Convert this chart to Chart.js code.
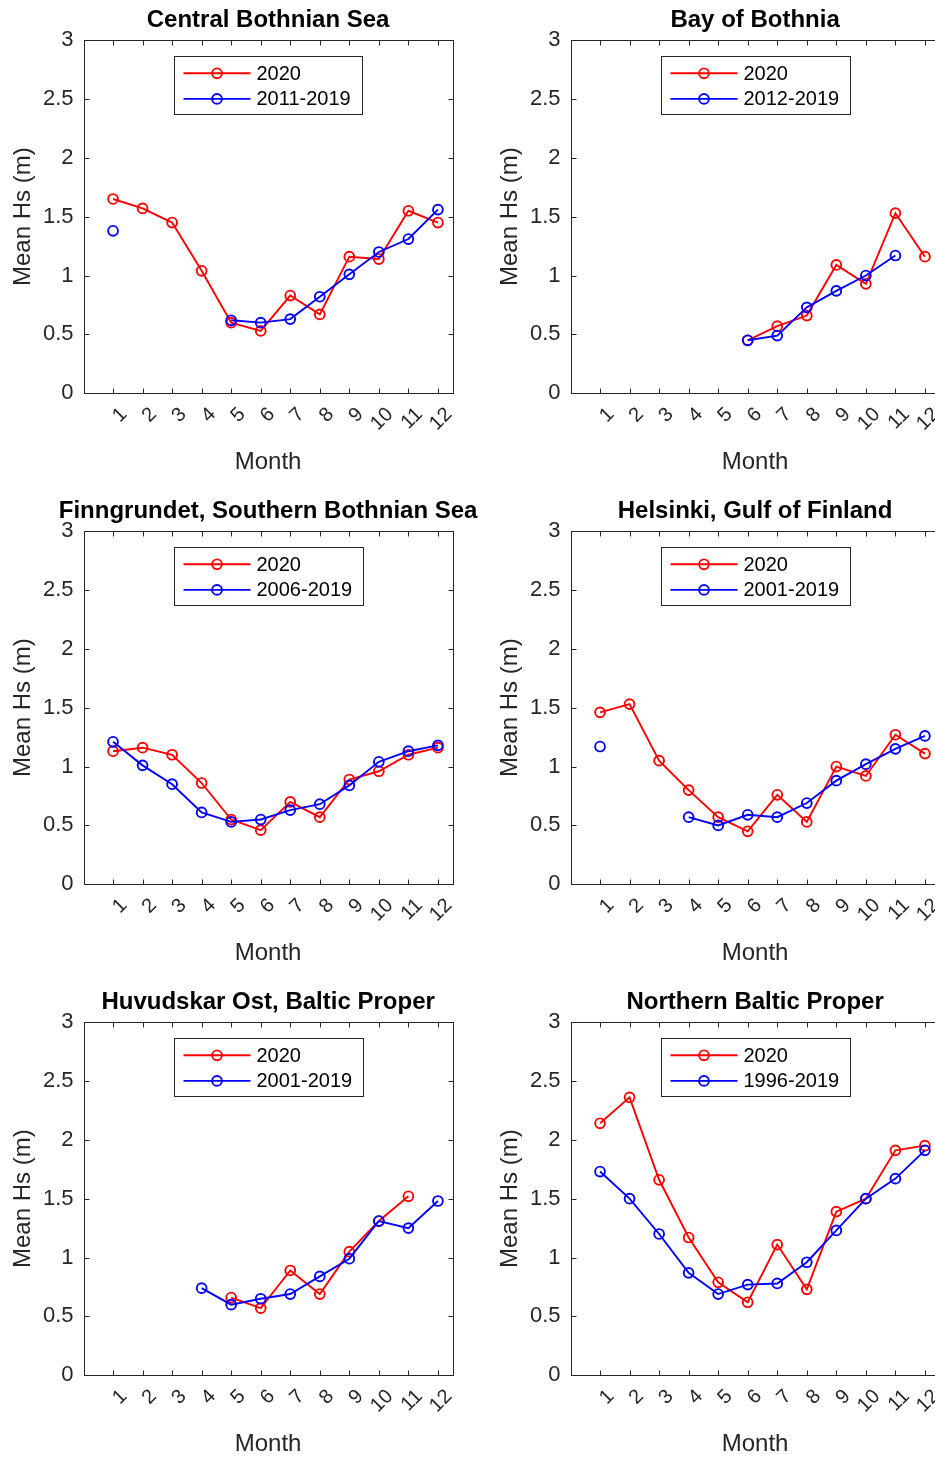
<!DOCTYPE html>
<html><head><meta charset="utf-8">
<script src="https://cdn.jsdelivr.net/npm/chart.js@4.4.0/dist/chart.umd.min.js"></script>
<style>
html,body{margin:0;padding:0;background:#fff;overflow:hidden;width:935px;height:1457px;position:relative;}
canvas{position:absolute;}
</style></head><body>
<canvas id="c0" width="500" height="491" style="left:0px;top:0px"></canvas>
<canvas id="c1" width="470" height="491" style="left:487px;top:0px"></canvas>
<canvas id="c2" width="500" height="491" style="left:0px;top:491px"></canvas>
<canvas id="c3" width="470" height="491" style="left:487px;top:491px"></canvas>
<canvas id="c4" width="500" height="491" style="left:0px;top:982px"></canvas>
<canvas id="c5" width="470" height="491" style="left:487px;top:982px"></canvas>
<script>
// ---- data ----
const months = [1,2,3,4,5,6,7,8,9,10,11,12];
const monthLabels = ['1','2','3','4','5','6','7','8','9','10','11','12'];
const yTickValues = [0,0.5,1,1.5,2,2.5,3];
const yTickLabels = ['0','0.5','1','1.5','2','2.5','3'];

const panelTitles = ['Central Bothnian Sea','Bay of Bothnia','Finngrundet, Southern Bothnian Sea',
  'Helsinki, Gulf of Finland','Huvudskar Ost, Baltic Proper','Northern Baltic Proper'];
const currentLabel = '2020';
const climLabels = ['2011-2019','2012-2019','2006-2019','2001-2019','2001-2019','1996-2019'];

const centralBothnian2020 = [1.65,1.57,1.45,1.04,0.60,0.53,0.83,0.67,1.16,1.14,1.55,1.45];
const centralBothnianClim = [1.38,null,null,null,0.62,0.60,0.63,0.82,1.01,1.20,1.31,1.56];
const bayOfBothnia2020 = [null,null,null,null,null,0.45,0.57,0.66,1.09,0.93,1.53,1.16];
const bayOfBothniaClim = [null,null,null,null,null,0.45,0.49,0.73,0.87,1.00,1.17,null];
const finngrundet2020 = [1.13,1.16,1.10,0.86,0.55,0.46,0.70,0.57,0.89,0.96,1.10,1.16];
const finngrundetClim = [1.21,1.01,0.85,0.61,0.53,0.55,0.63,0.68,0.84,1.04,1.13,1.18];
const helsinki2020 = [1.46,1.53,1.05,0.80,0.57,0.45,0.76,0.53,1.00,0.92,1.27,1.11];
const helsinkiClim = [1.17,null,null,0.57,0.50,0.59,0.57,0.69,0.88,1.02,1.15,1.26];
const huvudskar2020 = [null,null,null,null,0.66,0.57,0.89,0.69,1.05,1.31,1.52,null];
const huvudskarClim = [null,null,null,0.74,0.60,0.65,0.69,0.84,0.99,1.31,1.25,1.48];
const northernBaltic2020 = [2.14,2.36,1.66,1.17,0.79,0.62,1.11,0.73,1.39,1.50,1.91,1.95];
const northernBalticClim = [1.73,1.50,1.20,0.87,0.69,0.77,0.78,0.96,1.23,1.50,1.67,1.91];

const series2020 = [centralBothnian2020, bayOfBothnia2020, finngrundet2020, helsinki2020, huvudskar2020, northernBaltic2020];
const seriesClim = [centralBothnianClim, bayOfBothniaClim, finngrundetClim, helsinkiClim, huvudskarClim, northernBalticClim];

// ---- styling ----
const FONT = "'Liberation Sans', Arial, Helvetica, sans-serif";
const AXIS_COLOR = '#262626';
const TICK_LEN = 5;

const matlabPlugin = {
  id: 'matlabAxes',
  beforeDatasetsDraw(chart) {
    const {ctx, chartArea: a, scales: {x, y}} = chart;
    ctx.save();
    ctx.strokeStyle = AXIS_COLOR;
    ctx.lineWidth = 1;
    const L = Math.round(a.left) + 0.5, R = Math.round(a.right) + 0.5;
    const T = Math.round(a.top) + 0.5, B = Math.round(a.bottom) + 0.5;
    ctx.strokeRect(L, T, R - L, B - T);
    ctx.beginPath();
    x.ticks.forEach(t => {
      const px = Math.round(x.getPixelForValue(t.value)) + 0.5;
      ctx.moveTo(px, B); ctx.lineTo(px, B - TICK_LEN);
      ctx.moveTo(px, T); ctx.lineTo(px, T + TICK_LEN);
    });
    y.ticks.forEach(t => {
      const py = Math.round(y.getPixelForValue(t.value)) + 0.5;
      ctx.moveTo(L, py); ctx.lineTo(L + TICK_LEN, py);
      ctx.moveTo(R, py); ctx.lineTo(R - TICK_LEN, py);
    });
    ctx.stroke();
    ctx.restore();
  },
  afterDatasetsDraw(chart) {
    const {ctx, chartArea: a} = chart;
    const ds = chart.data.datasets;
    ctx.save();
    // panel title, centred over the axes
    ctx.font = 'bold 24px ' + FONT;
    ctx.fillStyle = '#000';
    ctx.textAlign = 'center';
    ctx.textBaseline = 'middle';
    ctx.fillText(chart.options.plugins.panelTitle.text, (a.left + a.right) / 2, 20);
    // legend box
    ctx.font = '20px ' + FONT;
    let maxW = 0;
    ds.forEach(d => { maxW = Math.max(maxW, ctx.measureText(d.label).width); });
    const boxW = Math.round(82 + maxW + 11.5);
    const boxH = 58;
    const cx = (a.left + a.right) / 2;
    const bx = Math.round(cx - boxW / 2) + 0.5;
    const by = Math.round(a.top + 15.7) + 0.5;
    ctx.fillStyle = '#fff';
    ctx.fillRect(bx, by, boxW, boxH);
    ctx.strokeStyle = AXIS_COLOR;
    ctx.lineWidth = 1;
    ctx.strokeRect(bx, by, boxW, boxH);
    ds.forEach((d, i) => {
      const ry = by + 16.8 + i * 25.6;
      ctx.strokeStyle = d.borderColor;
      ctx.lineWidth = d.borderWidth;
      ctx.beginPath();
      ctx.moveTo(bx + 9, ry); ctx.lineTo(bx + 76, ry);
      ctx.stroke();
      ctx.beginPath();
      ctx.arc(bx + 42.5, ry, d.pointRadius, 0, Math.PI * 2);
      ctx.stroke();
      ctx.fillStyle = '#000';
      ctx.textAlign = 'left';
      ctx.textBaseline = 'middle';
      ctx.fillText(d.label, bx + 82, ry + 1);
    });
    ctx.restore();
  }
};

function makeDataset(label, values, color, order) {
  return {
    label: label,
    data: months.map((m, i) => ({x: m, y: values[i]})),
    borderColor: color,
    backgroundColor: color,
    borderWidth: 1.9,
    pointRadius: 4.9,
    pointBorderWidth: 1.9,
    pointBackgroundColor: 'rgba(0,0,0,0)',
    pointBorderColor: color,
    tension: 0,
    spanGaps: false,
    order: order
  };
}

for (let p = 0; p < 6; p++) {
  const ctx = document.getElementById('c' + p);
  const rightPad = ctx.width - 452.7;
  new Chart(ctx, {
    type: 'line',
    data: {
      datasets: [
        makeDataset(currentLabel, series2020[p], '#ff0000', 1),
        makeDataset(climLabels[p], seriesClim[p], '#0000ff', 0)
      ]
    },
    options: {
      responsive: false,
      animation: false,
      events: [],
      layout: {padding: {left: 0, top: 40, right: rightPad, bottom: 0}},
      plugins: {
        legend: {display: false},
        tooltip: {enabled: false},
        title: {display: false},
        panelTitle: {text: panelTitles[p]}
      },
      scales: {
        x: {
          type: 'linear',
          min: 0, max: 12.5,
          afterBuildTicks: s => { s.ticks = months.map(v => ({value: v})); },
          afterFit: s => { s.height = 97.7; },
          grid: {display: false, drawTicks: false},
          border: {display: false},
          ticks: {
            autoSkip: false,
            minRotation: 45, maxRotation: 45,
            labelOffset: 11,
            padding: 9.5,
            color: AXIS_COLOR,
            font: {family: FONT, size: 20},
            callback: (v, i) => monthLabels[i]
          },
          title: {
            display: true, text: 'Month', color: AXIS_COLOR,
            font: {family: FONT, size: 24},
            padding: {top: 0, bottom: 14.5}
          }
        },
        y: {
          type: 'linear',
          min: 0, max: 3,
          afterBuildTicks: s => { s.ticks = yTickValues.map(v => ({value: v})); },
          afterFit: s => { s.width = 83.5; },
          grid: {display: false, drawTicks: false},
          border: {display: false},
          ticks: {
            padding: 10,
            color: AXIS_COLOR,
            font: {family: FONT, size: 22},
            callback: (v, i) => yTickLabels[i]
          },
          title: {
            display: true, text: 'Mean Hs (m)', color: AXIS_COLOR,
            font: {family: FONT, size: 24},
            padding: {top: 9, bottom: 0}
          }
        }
      }
    },
    plugins: [matlabPlugin]
  });
}
</script>
</body></html>
